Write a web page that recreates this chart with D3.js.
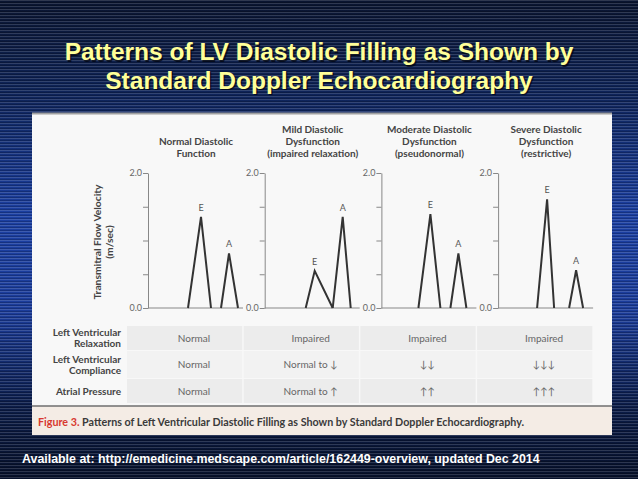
<!DOCTYPE html>
<html>
<head>
<meta charset="utf-8">
<script src="https://cdn.jsdelivr.net/npm/d3@7"></script>
<style>
  body { margin: 0; padding: 0; background: #0a1838; }
  svg { display: block; }
</style>
</head>
<body>
<script>
var width = 638;
var height = 479;

// panel headings, one array of lines per panel
var panel_titles = [
  ["Normal Diastolic", "Function"],
  ["Mild Diastolic", "Dysfunction", "(impaired relaxation)"],
  ["Moderate Diastolic", "Dysfunction", "(pseudonormal)"],
  ["Severe Diastolic", "Dysfunction", "(restrictive)"]
];

// E and A waves: [start, peak, end] on the time axis, peak velocity in m/sec
var e_times = [[40, 53, 63], [41, 50, 68], [37, 49, 59], [39, 49, 56]];
var e_velocity = [1.35, 0.55, 1.39, 1.61];
var a_times = [[73, 81, 90], [68, 78, 86], [69, 77, 85], [71, 78, 85]];
var a_velocity = [0.81, 1.35, 0.81, 0.56];

var y_ticks = [0, 0.5, 1.0, 1.5, 2.0];

// table under the panels
var row_labels = [["Left Ventricular", "Relaxation"], ["Left Ventricular", "Compliance"], ["Atrial Pressure"]];
var relaxation = ["Normal", "Impaired", "Impaired", "Impaired"];
var compliance = ["Normal", "Normal to \u2193", "\u2193\u2193", "\u2193\u2193\u2193"];
var atrial_pressure = ["Normal", "Normal to \u2191", "\u2191\u2191", "\u2191\u2191\u2191"];

var fig_font = "Lato, 'Open Sans', sans-serif";

var svg = d3.select("body").append("svg")
  .attr("width", width)
  .attr("height", height);

var defs = svg.append("defs");

// slide background: navy gradient with thin horizontal stripes
var grad = defs.append("linearGradient")
  .attr("id", "bg")
  .attr("x1", 0).attr("y1", 0).attr("x2", 0).attr("y2", 1);
[[0, "#0a1530"], [0.2, "#0e245a"], [0.45, "#1b3fa2"], [0.65, "#1b3c9a"], [0.85, "#0b1c48"], [1, "#07112a"]]
  .forEach(function(s) {
    grad.append("stop").attr("offset", s[0]).attr("stop-color", s[1]);
  });

var stripes = defs.append("pattern")
  .attr("id", "stripes")
  .attr("width", 8).attr("height", 3)
  .attr("patternUnits", "userSpaceOnUse");
stripes.append("rect").attr("width", 8).attr("height", 1).attr("fill", "#ffffff").attr("opacity", 0.15);
stripes.append("rect").attr("y", 2).attr("width", 8).attr("height", 1).attr("fill", "#000000").attr("opacity", 0.2);

svg.append("rect").attr("width", width).attr("height", height).attr("fill", "url(#bg)");
svg.append("rect").attr("width", width).attr("height", height).attr("fill", "url(#stripes)");

// slide title with a drop shadow
var title_lines = ["Patterns of LV Diastolic Filling as Shown by", "Standard Doppler Echocardiography"];
var title = svg.append("g")
  .attr("font-family", "'Liberation Sans', Arial, sans-serif")
  .attr("font-weight", "bold")
  .attr("font-size", "24.5px")
  .attr("text-anchor", "middle");

title.selectAll(".shadow")
  .data(title_lines)
  .enter()
  .append("text")
  .attr("class", "shadow")
  .attr("x", width / 2 + 1.5)
  .attr("y", function(d, i) { return 61.5 + i * 28.5; })
  .attr("fill", "#000")
  .attr("opacity", 0.6)
  .text(function(d) { return d; });

title.selectAll(".line")
  .data(title_lines)
  .enter()
  .append("text")
  .attr("class", "line")
  .attr("x", width / 2)
  .attr("y", function(d, i) { return 60 + i * 28.5; })
  .attr("fill", "#ffff99")
  .text(function(d) { return d; });

// white figure panel
svg.append("rect")
  .attr("x", 32).attr("y", 113)
  .attr("width", 580).attr("height", 322)
  .attr("fill", "#f8f8f8");
svg.append("line")
  .attr("x1", 32).attr("x2", 612)
  .attr("y1", 113.5).attr("y2", 113.5)
  .attr("stroke", "#a0a0a0")
  .attr("stroke-width", 2);

// caption strip
svg.append("rect")
  .attr("x", 32).attr("y", 406)
  .attr("width", 580).attr("height", 29)
  .attr("fill", "#f4ece5");
svg.append("line")
  .attr("x1", 32).attr("x2", 612)
  .attr("y1", 406).attr("y2", 406)
  .attr("stroke", "#6f6f6f")
  .attr("stroke-width", 1.5);

var caption = svg.append("text")
  .attr("x", 38).attr("y", 426)
  .attr("font-family", fig_font)
  .attr("font-weight", "bold")
  .attr("font-size", "10.5px")
  .attr("textLength", 486)
  .attr("lengthAdjust", "spacingAndGlyphs");
caption.append("tspan").attr("fill", "#d8382f").text("Figure 3. ");
caption.append("tspan").attr("fill", "#3a3a3a")
  .text("Patterns of Left Ventricular Diastolic Filling as Shown by Standard Doppler Echocardiography.");

// panels
var panel_x = d3.scaleBand()
  .domain(d3.range(panel_titles.length))
  .range([148, 148 + 4 * 116.7]);

var y = d3.scaleLinear().domain([0, 2]).range([308, 173]);

var line = d3.line();

panel_titles.forEach(function(t, i) {
  var ax = panel_x(i);
  var x = d3.scaleLinear().domain([0, 95]).range([ax, ax + 95]);
  var g = svg.append("g").attr("font-family", fig_font);

  // heading, bottom aligned
  g.selectAll(".ptitle")
    .data(t)
    .enter()
    .append("text")
    .attr("x", ax + 48)
    .attr("y", function(d, j) { return 157 - (t.length - 1 - j) * 12; })
    .attr("text-anchor", "middle")
    .attr("font-size", "10px")
    .attr("font-weight", "bold")
    .attr("fill", "#444")
    .text(function(d) { return d; });

  // velocity axis
  var axis = g.append("g")
    .attr("transform", "translate(" + ax + ",0)")
    .call(d3.axisLeft(y)
      .tickValues(y_ticks)
      .tickSize(5)
      .tickSizeOuter(0)
      .tickPadding(1)
      .tickFormat(function(d) { return (d === 0 || d === 2) ? d3.format(".1f")(d) : ""; }));
  axis.select(".domain").attr("stroke", "#888");
  axis.selectAll(".tick line").attr("stroke", "#888");
  axis.selectAll(".tick text")
    .attr("fill", "#666")
    .attr("font-size", "9px")
    .attr("font-family", fig_font);

  // baseline
  g.append("line")
    .attr("x1", x(0)).attr("x2", x(95))
    .attr("y1", y(0)).attr("y2", y(0))
    .attr("stroke", "#888");

  // E and A waves
  var waves = [
    { name: "E", t: e_times[i], v: e_velocity[i] },
    { name: "A", t: a_times[i], v: a_velocity[i] }
  ];

  g.selectAll(".wave")
    .data(waves)
    .enter()
    .append("path")
    .attr("class", "wave")
    .attr("d", function(d) {
      return line([[x(d.t[0]), y(0)], [x(d.t[1]), y(d.v)], [x(d.t[2]), y(0)]]);
    })
    .attr("fill", "none")
    .attr("stroke", "#333")
    .attr("stroke-width", 2);

  g.selectAll(".wlabel")
    .data(waves)
    .enter()
    .append("text")
    .attr("x", function(d) { return x(d.t[1]); })
    .attr("y", function(d) { return y(d.v) - 6; })
    .attr("text-anchor", "middle")
    .attr("font-size", "9px")
    .attr("fill", "#555")
    .text(function(d) { return d.name; });
});

// y axis title
var ytitle = svg.append("text")
  .attr("transform", "translate(101,242) rotate(-90)")
  .attr("text-anchor", "middle")
  .attr("font-family", fig_font)
  .attr("font-size", "10.3px")
  .attr("font-weight", "bold")
  .attr("fill", "#444");
ytitle.append("tspan").attr("x", 0).attr("dy", 0).text("Transmitral Flow Velocity");
ytitle.append("tspan").attr("x", 0).attr("dy", 12).text("(m/sec)");

// table
var rows = [relaxation, compliance, atrial_pressure];
var row_top = [326, 351, 379];
var row_h = [24, 27, 24];
var row_fill = ["#ececec", "#f2f2f2", "#ececec"];

rows.forEach(function(r, k) {
  var g = svg.append("g").attr("font-family", fig_font);

  g.selectAll("rect")
    .data(r)
    .enter()
    .append("rect")
    .attr("x", function(d, i) { return panel_x(i) - 21; })
    .attr("y", row_top[k])
    .attr("width", panel_x.bandwidth() - 1.5)
    .attr("height", row_h[k])
    .attr("fill", row_fill[k]);

  g.selectAll(".cell")
    .data(r)
    .enter()
    .append("text")
    .attr("x", function(d, i) { return panel_x(i) + 46; })
    .attr("y", row_top[k] + row_h[k] / 2 + 3.5)
    .attr("text-anchor", "middle")
    .attr("font-size", "10px")
    .attr("fill", "#666")
    .text(function(d) { return d; });

  var lab = row_labels[k];
  g.selectAll(".rlabel")
    .data(lab)
    .enter()
    .append("text")
    .attr("x", 121)
    .attr("y", function(d, j) {
      return row_top[k] + row_h[k] / 2 + 3.5 + (j - (lab.length - 1) / 2) * 11;
    })
    .attr("text-anchor", "end")
    .attr("font-size", "10px")
    .attr("font-weight", "bold")
    .attr("fill", "#444")
    .text(function(d) { return d; });
});

// source footer
svg.append("text")
  .attr("x", 22).attr("y", 463)
  .attr("font-family", "'Liberation Sans', Arial, sans-serif")
  .attr("font-weight", "bold")
  .attr("font-size", "12.4px")
  .attr("fill", "#ffffff")
  .text("Available at: http://emedicine.medscape.com/article/162449-overview, updated Dec 2014");
</script>
</body>
</html>
